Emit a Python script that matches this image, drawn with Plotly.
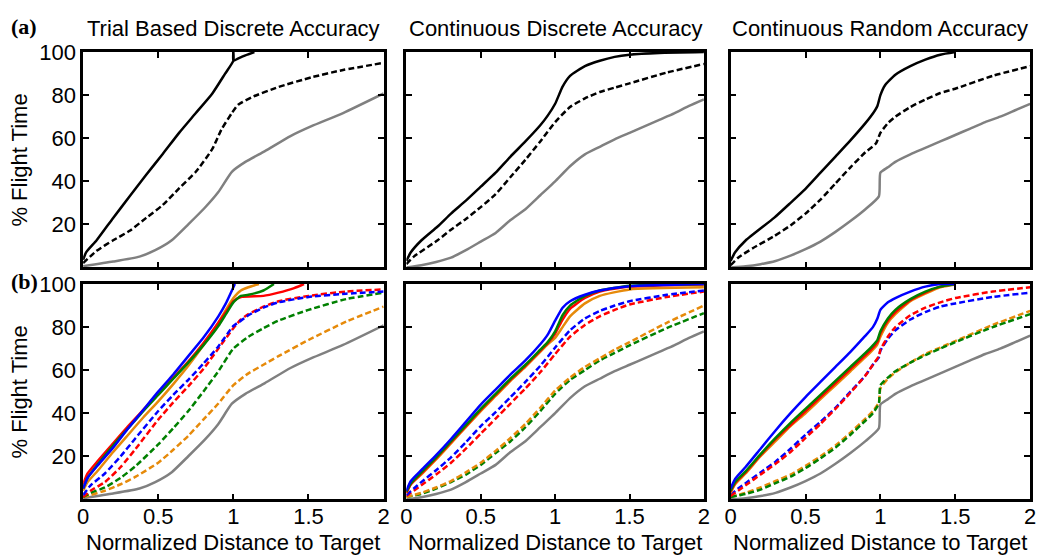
import plotly.graph_objects as go

# ---------------- data ----------------
# Panel (a) column 1: Trial Based Discrete Accuracy
a1_black_x = [0, 0.02, 0.09, 0.2, 0.31, 0.42, 0.53, 0.64, 0.75, 0.86, 0.945, 1.0, 1.0, 1.0, 1.03, 1.08, 1.14]
a1_black_y = [3.5, 7, 12.6, 23, 33, 43, 52.7, 62.6, 71.7, 80.8, 90, 96, 100, 96, 97, 98.5, 100]
a1_dash_x = [0, 0.09, 0.2, 0.31, 0.42, 0.53, 0.64, 0.75, 0.86, 0.92, 0.99, 1.03, 1.12, 1.3, 1.52, 1.73, 2.0]
a1_dash_y = [2, 7.7, 12.6, 17, 23, 29, 36.8, 44.4, 55, 64, 71.7, 75.5, 79, 83.8, 88.3, 91.7, 95]
gray1_x = [0, 0.2, 0.375, 0.48, 0.59, 0.7, 0.81, 0.9, 0.99, 1.08, 1.21, 1.38, 1.52, 1.73, 2.0]
gray1_y = [0.5, 2.7, 5, 8, 12.6, 20, 27.7, 35, 44.4, 49, 54, 61, 65.6, 71.7, 80.8]

# Panel (a) column 2: Continuous Discrete Accuracy
a2_black_x = [0, 0.03, 0.1, 0.21, 0.3, 0.4, 0.5, 0.6, 0.7, 0.8, 0.9, 0.95, 1.0, 1.05, 1.1, 1.2, 1.3, 1.4, 1.5, 1.7, 2.0]
a2_black_y = [3, 7, 12.5, 19, 25, 31, 37.5, 44, 51.5, 58.5, 66, 70.5, 76, 84, 89, 93.5, 96, 97.8, 98.8, 99.6, 100]
a2_dash_x = [0, 0.05, 0.21, 0.3, 0.4, 0.5, 0.6, 0.7, 0.8, 0.9, 1.0, 1.1, 1.2, 1.3, 1.4, 1.5, 1.75, 2.0]
a2_dash_y = [1.5, 5, 12.6, 17.5, 22.5, 28, 34, 42, 50, 58.5, 67.5, 74.5, 78.5, 81.5, 83.5, 85.5, 90.5, 94.5]
gray2_x = [0, 0.1, 0.2, 0.3, 0.4, 0.5, 0.6, 0.7, 0.8, 0.9, 1.0, 1.1, 1.2, 1.3, 1.4, 1.5, 1.6, 1.7, 1.8, 1.9, 2.0]
gray2_y = [0, 1, 2.5, 4.5, 8, 12, 16, 22, 27, 33.5, 40, 47, 52.5, 56, 59.5, 62.5, 65.5, 68.5, 71.5, 75, 78]

# Panel (a) column 3: Continuous Random Accuracy
a3_black_x = [0, 0.03, 0.1, 0.29, 0.4, 0.5, 0.6, 0.7, 0.8, 0.9, 0.95, 0.98, 1.0, 1.03, 1.1, 1.2, 1.3, 1.4, 1.5]
a3_black_y = [3, 7, 12.5, 23, 30, 36.5, 44, 51.5, 59, 67, 71.5, 75, 80, 84.5, 89.5, 93.5, 96.5, 98.8, 100]
a3_dash_x = [0, 0.05, 0.15, 0.29, 0.4, 0.5, 0.6, 0.7, 0.8, 0.9, 0.97, 1.0, 1.05, 1.1, 1.2, 1.3, 1.4, 1.5, 1.75, 2.0]
a3_dash_y = [1, 4.5, 9, 14.5, 19.5, 25, 31.5, 39, 46.5, 53.5, 57.5, 62.5, 67, 70, 74.5, 78, 81, 83, 89, 93.5]
gray3_x = [0, 0.1, 0.2, 0.3, 0.4, 0.5, 0.6, 0.7, 0.8, 0.9, 0.99, 1.0, 1.05, 1.1, 1.2, 1.3, 1.4, 1.5, 1.6, 1.7, 1.8, 1.9, 2.0]
gray3_y = [0, 0.5, 1.5, 3, 5.5, 8.5, 12, 16.5, 21.5, 27, 33, 44, 46.5, 49, 52.5, 55.5, 58.5, 61.5, 64.5, 67.5, 70, 73, 76]

# Panel (b) column 1
b1_blue_x = [0, 0.03, 0.1, 0.2, 0.3, 0.4, 0.5, 0.6, 0.7, 0.8, 0.9, 0.95, 1.01]
b1_blue_y = [5, 10, 16, 24, 33, 41.5, 50, 58, 66.5, 75, 85, 91, 100]
b1_red_x = [0, 0.03, 0.1, 0.2, 0.3, 0.4, 0.5, 0.6, 0.7, 0.8, 0.9, 0.95, 1.0, 1.05, 1.2, 1.3, 1.4, 1.47]
b1_red_y = [7, 12, 18, 26, 34, 41.5, 49, 56.5, 64, 72.5, 82, 87, 92, 94, 94.5, 96, 98, 100]
b1_green_x = [0, 0.03, 0.1, 0.2, 0.3, 0.4, 0.5, 0.6, 0.7, 0.8, 0.9, 0.95, 1.0, 1.05, 1.1, 1.2, 1.27]
b1_green_y = [5, 10, 16.5, 25, 33, 41, 48.5, 56, 63.5, 71.5, 80.5, 86, 91.5, 94.5, 95, 97, 100]
b1_orange_x = [0, 0.03, 0.1, 0.2, 0.3, 0.4, 0.5, 0.6, 0.7, 0.8, 0.9, 0.95, 1.0, 1.05, 1.1, 1.17]
b1_orange_y = [4, 8, 13.5, 22, 30, 38, 45.5, 53.5, 62, 71.5, 82, 88, 93.5, 97, 98.5, 100]
b1_blued_x = [0, 0.05, 0.145, 0.25, 0.35, 0.5, 0.6, 0.7, 0.8, 0.9, 1.0, 1.05, 1.1, 1.2, 1.3, 1.5, 1.75, 2.0]
b1_blued_y = [2, 6.5, 12, 20, 28.5, 41, 48.5, 55.5, 63, 71, 80.5, 83, 85.5, 89, 91.5, 94, 95.5, 96.5]
b1_redd_x = [0, 0.05, 0.145, 0.25, 0.35, 0.5, 0.6, 0.7, 0.8, 0.9, 1.0, 1.05, 1.1, 1.2, 1.3, 1.5, 1.75, 2.0]
b1_redd_y = [1, 4, 8, 15, 23.5, 37, 45, 52.5, 60.5, 70, 79.5, 83.5, 86, 89.5, 92, 94.5, 96.5, 97.5]
b1_greend_x = [0, 0.05, 0.145, 0.25, 0.35, 0.5, 0.6, 0.7, 0.8, 0.9, 1.0, 1.1, 1.2, 1.3, 1.5, 1.75, 2.0]
b1_greend_y = [1, 3, 5.5, 10, 15.5, 25.5, 33, 41, 50, 59.5, 70, 75.5, 79.5, 83, 88, 93, 96]
b1_oranged_x = [0, 0.05, 0.145, 0.25, 0.35, 0.5, 0.6, 0.7, 0.8, 0.9, 1.0, 1.1, 1.2, 1.3, 1.5, 1.75, 2.0]
b1_oranged_y = [1, 2, 4, 7, 10.5, 17, 23, 29.5, 37, 44.5, 53, 58.5, 62.5, 66.5, 74, 82.5, 89.5]

# Panel (b) column 2
b2_x = [0, 0.03, 0.1, 0.2, 0.3, 0.4, 0.5, 0.6, 0.7, 0.8, 0.9, 0.95, 1.0, 1.05, 1.1, 1.2, 1.3, 1.5, 2.0]
b2_blue_y = [4, 8.5, 13.5, 20.5, 28, 36, 44, 51, 58, 64.5, 72, 76.5, 83, 89, 92, 95, 97, 99, 100]
b2_green_y = [3.5, 7.5, 12.5, 19.5, 27, 34.5, 42, 49, 56, 62.5, 69.5, 73, 78, 85.5, 90, 94.5, 97, 99.2, 100]
b2_red_y = [3, 7, 12, 19, 26.5, 34, 41.5, 48.5, 55.5, 62, 69, 72.5, 77, 83.5, 88.5, 93.5, 96.5, 98.8, 99.8]
b2_orange_y = [3, 7, 11.5, 18.5, 26, 33.5, 41, 48, 55, 61.5, 68.5, 72, 75, 80, 85, 91, 94.5, 97.5, 98.5]
b2d_x = [0, 0.05, 0.1, 0.2, 0.3, 0.4, 0.5, 0.6, 0.7, 0.8, 0.9, 1.0, 1.1, 1.2, 1.3, 1.4, 1.5, 1.75, 2.0]
b2_blued_y = [2, 5, 8, 13.5, 19.5, 26.5, 34, 40.5, 47.5, 54.5, 62, 70.5, 78.5, 84, 87.5, 90, 92, 95, 97]
b2_redd_y = [1.5, 4, 6.5, 11.5, 17, 23.5, 30.5, 37.5, 44.5, 51.5, 59, 67.5, 75.5, 81, 85, 88, 90.5, 94, 96.5]
b2_oranged_y = [1, 2, 3, 5.5, 8.5, 12.5, 17, 22.5, 28.5, 35, 42.5, 50.5, 56.5, 61.5, 65.5, 69.5, 73, 82, 90]
b2_greend_y = [1, 1.8, 2.5, 5, 8, 11.5, 16, 21.5, 27, 33.5, 41, 49, 55.5, 60, 64.5, 68, 71.5, 79.5, 86.5]

# Panel (b) column 3
b3_x = [0, 0.03, 0.1, 0.2, 0.3, 0.4, 0.5, 0.6, 0.7, 0.8, 0.9, 0.95, 0.98, 1.0, 1.05, 1.1, 1.2, 1.3, 1.4, 1.5]
b3_blue_y = [5, 9.5, 15, 23.5, 32, 40, 47.5, 54.5, 61.5, 68.5, 76, 80, 84, 88, 91.5, 93.5, 96.5, 98.8, 100, 100]
b3_green_y = [4, 8, 13, 21, 28.5, 35.5, 42, 48.5, 55, 61.5, 68, 71.5, 74, 78, 84, 88, 93, 96.5, 98.8, 100]
b3_red_y = [3.5, 7.5, 12.5, 20.5, 28, 34.5, 41, 47.5, 54, 60.5, 67, 70.5, 73, 77, 83, 87, 92.5, 96, 98.8, 100]
b3_orange_y = [3, 7, 12, 20, 27, 34, 40, 46.5, 53, 59.5, 66, 69.5, 72, 75.5, 82, 86, 92, 95.5, 98.5, 99.8]
b3d_x = [0, 0.05, 0.1, 0.2, 0.3, 0.4, 0.5, 0.6, 0.7, 0.8, 0.9, 0.95, 0.99, 1.0, 1.05, 1.1, 1.2, 1.3, 1.4, 1.5, 1.75, 2.0]
b3_blued_y = [2, 5, 7.5, 12.5, 17.5, 23.5, 30, 36, 42.5, 50, 57.5, 62.5, 66, 69, 74.5, 78.5, 83.5, 87, 89.5, 91, 94, 96]
b3_redd_y = [1.5, 4, 6.5, 11.5, 16.5, 22, 28.5, 35, 42, 49.5, 57.5, 62.5, 66.5, 69.5, 75.5, 80, 85.5, 89, 91.5, 93.5, 96.5, 98.5]
b3_greend_y = [1, 1.8, 2.5, 4.5, 7.5, 10.5, 14.5, 19, 24, 30, 36.5, 40, 44.5, 53, 56.5, 59.5, 63.5, 67, 70, 73, 80, 86]
b3_oranged_y = [1, 2, 3, 5.5, 8.5, 11.5, 15.5, 20, 25, 31, 37.5, 41, 45, 51.5, 56, 59, 63.5, 67.5, 70.5, 73.5, 81, 87.5]

panel_titles = ["Trial Based Discrete Accuracy", "Continuous Discrete Accuracy", "Continuous Random Accuracy"]
x_ticks = [0, 0.5, 1, 1.5, 2]
x_tick_text = ["0", "0.5", "1", "1.5", "2"]
y_ticks = [20, 40, 60, 80, 100]
y_tick_text = ["20", "40", "60", "80", "100"]

# ---------------- styling ----------------
BLUE = "#0000FF"
RED = "#FF0000"
GREEN = "#008000"
ORANGE = "#E68A0A"
GRAY = "#808080"
BLACK = "#000000"
LW = 2.5
DASH = "6px,3px"
FONT = "Liberation Sans, Arial, sans-serif"
FS = 22

W, H = 1050, 559
col_px = [(78, 382), (405, 706), (733, 1036)]
row_px = [(41, 261), (278, 498)]

fig = go.Figure()


def axis_name(i):
    return "" if i == 1 else str(i)


def add(idx, x, y, color, dash=None):
    fig.add_trace(go.Scatter(
        x=x, y=y, mode="lines",
        line=dict(color=color, width=LW, dash=dash or "solid", shape="spline", smoothing=0.5),
        xaxis="x" + axis_name(idx), yaxis="y" + axis_name(idx),
        showlegend=False, hoverinfo="skip"))


# top row
add(1, gray1_x, gray1_y, GRAY)
add(1, a1_dash_x, a1_dash_y, BLACK, DASH)
add(1, a1_black_x, a1_black_y, BLACK)
add(2, gray2_x, gray2_y, GRAY)
add(2, a2_dash_x, a2_dash_y, BLACK, DASH)
add(2, a2_black_x, a2_black_y, BLACK)
add(3, gray3_x, gray3_y, GRAY)
add(3, a3_dash_x, a3_dash_y, BLACK, DASH)
add(3, a3_black_x, a3_black_y, BLACK)

# bottom row col 1
add(4, gray1_x, gray1_y, GRAY)
add(4, b1_oranged_x, b1_oranged_y, ORANGE, DASH)
add(4, b1_greend_x, b1_greend_y, GREEN, DASH)
add(4, b1_redd_x, b1_redd_y, RED, DASH)
add(4, b1_blued_x, b1_blued_y, BLUE, DASH)
add(4, b1_orange_x, b1_orange_y, ORANGE)
add(4, b1_red_x, b1_red_y, RED)
add(4, b1_green_x, b1_green_y, GREEN)
add(4, b1_blue_x, b1_blue_y, BLUE)

# bottom row col 2
add(5, gray2_x, gray2_y, GRAY)
add(5, b2d_x, b2_greend_y, GREEN, DASH)
add(5, b2d_x, b2_oranged_y, ORANGE, DASH)
add(5, b2d_x, b2_redd_y, RED, DASH)
add(5, b2d_x, b2_blued_y, BLUE, DASH)
add(5, b2_x, b2_orange_y, ORANGE)
add(5, b2_x, b2_red_y, RED)
add(5, b2_x, b2_green_y, GREEN)
add(5, b2_x, b2_blue_y, BLUE)

# bottom row col 3
add(6, gray3_x, gray3_y, GRAY)
add(6, b3d_x, b3_oranged_y, ORANGE, DASH)
add(6, b3d_x, b3_greend_y, GREEN, DASH)
add(6, b3d_x, b3_blued_y, BLUE, DASH)
add(6, b3d_x, b3_redd_y, RED, DASH)
add(6, b3_x, b3_orange_y, ORANGE)
add(6, b3_x, b3_red_y, RED)
add(6, b3_x, b3_green_y, GREEN)
add(6, b3_x, b3_blue_y, BLUE)

layout = dict(
    autosize=True,
    margin=dict(l=0, r=0, t=0, b=0, pad=0),
    paper_bgcolor="white", plot_bgcolor="white",
    font=dict(family=FONT, size=FS, color="black"),
    showlegend=False,
)

common = dict(showline=True, linecolor="black", linewidth=2.5, mirror="allticks",
              ticks="inside", ticklen=6, tickwidth=2, tickcolor="black",
              showgrid=False, zeroline=False,
              tickfont=dict(family=FONT, size=FS, color="black"))

annotations = []
for r in range(2):
    for c in range(3):
        idx = r * 3 + c + 1
        x0, x1 = col_px[c]
        y0, y1 = row_px[r]
        xd = [x0 / W, x1 / W]
        yd = [1 - y1 / H, 1 - y0 / H]
        layout["xaxis" + axis_name(idx)] = dict(
            common, domain=xd, range=[0, 2], tickvals=x_ticks, ticktext=x_tick_text,
            showticklabels=(r == 1), ticklabelstandoff=-4, anchor="y" + axis_name(idx))
        layout["yaxis" + axis_name(idx)] = dict(
            common, domain=yd, range=[0, 100], tickvals=y_ticks, ticktext=y_tick_text,
            showticklabels=(c == 0), anchor="x" + axis_name(idx))
        if r == 1:
            annotations.append(dict(
                text="Normalized Distance to Target", x=(x0 + x1) / 2 / W, y=1 - 542 / H,
                xref="paper", yref="paper", showarrow=False, xanchor="center", yanchor="middle",
                font=dict(family=FONT, size=FS, color="black")))
    annotations.append(dict(
        text="% Flight Time", x=14 / W, y=1 - (row_px[r][0] + row_px[r][1]) / 2 / H,
        xref="paper", yref="paper", showarrow=False, textangle=-90,
        xanchor="center", yanchor="middle",
        font=dict(family=FONT, size=FS, color="black")))

for c in range(3):
    annotations.append(dict(
        text=panel_titles[c], x=(col_px[c][0] + col_px[c][1]) / 2 / W, y=1 - 17 / H,
        xref="paper", yref="paper", showarrow=False, xanchor="center", yanchor="middle",
        font=dict(family=FONT, size=FS, color="black")))

annotations.append(dict(text="<b>(a)</b>", x=3 / W, y=1 - 15 / H, xref="paper", yref="paper",
                        showarrow=False, xanchor="left", yanchor="middle",
                        font=dict(family="Liberation Serif, Times New Roman, serif", size=22, color="black")))
annotations.append(dict(text="<b>(b)</b>", x=3 / W, y=1 - 275 / H, xref="paper", yref="paper",
                        showarrow=False, xanchor="left", yanchor="middle",
                        font=dict(family="Liberation Serif, Times New Roman, serif", size=22, color="black")))

layout["annotations"] = annotations
fig.update_layout(**layout)
fig.write_html("out.html",
               config={"displayModeBar": False, "responsive": True},
               default_width="100vw", default_height="100vh",
               post_script="document.body.style.margin='0';document.body.style.padding='0';"
                           "document.documentElement.style.overflow='hidden';"
                           "Plotly.Plots.resize(document.getElementById('{plot_id}'));")
